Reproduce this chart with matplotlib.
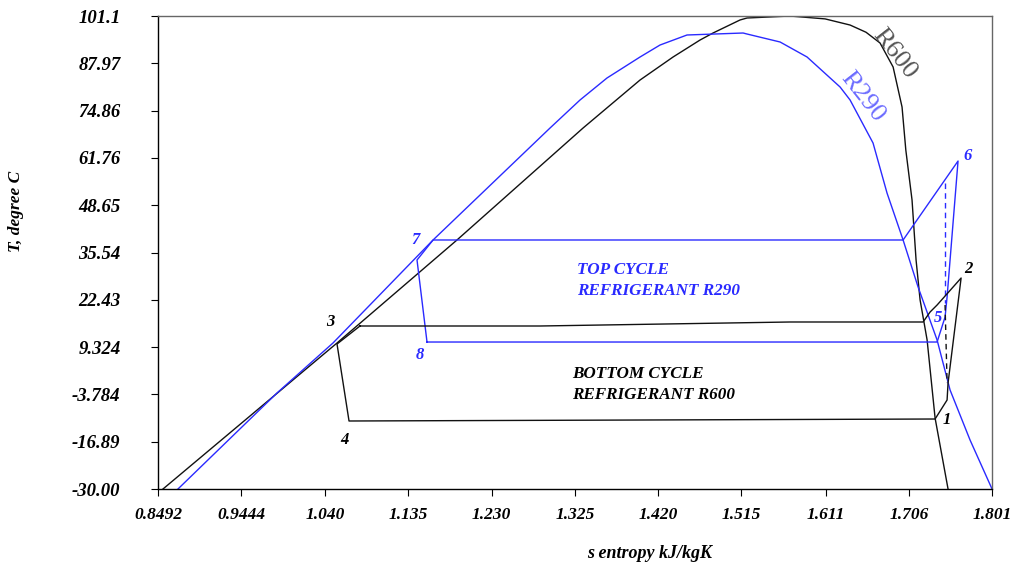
import matplotlib
matplotlib.use("Agg")
import matplotlib.pyplot as plt

# -----------------------------------------------------
# Data
# -----------------------------------------------------

# saturation dome R600 (black)
r600_s = [0.8549, 1.0535, 1.1904, 1.3343, 1.3993, 1.4370, 1.4678, 1.4826, 1.5134,
          1.5214, 1.5705, 1.6105, 1.6390, 1.6572, 1.6732, 1.6881, 1.6983, 1.7026,
          1.7097, 1.7143, 1.7189, 1.7269, 1.7360, 1.7508]
r600_t = [-30.0, 10.47, 39.02, 70.06, 83.36, 89.74, 94.45, 96.39, 100.0,
          100.55, 101.1, 100.3, 98.6, 96.6, 93.62, 86.97, 75.88, 63.96,
          50.10, 33.47, 22.39, 11.30, -10.32, -30.0]

# saturation dome R290 (blue)
r290_s = [0.8720, 0.9850, 1.0489, 1.1631, 1.2966, 1.3308, 1.3616, 1.3993, 1.4221,
          1.4529, 1.5169, 1.5214, 1.5591, 1.5899, 1.6276, 1.6390, 1.6652, 1.6812,
          1.6995, 1.7166, 1.7383, 1.7531, 1.7759, 1.8010]
r290_t = [-30.0, -3.39, 10.47, 39.02, 70.06, 77.82, 83.92, 89.74, 93.06,
          95.84, 96.39, 96.11, 93.90, 89.74, 81.42, 77.82, 65.90, 52.0,
          39.02, 25.99, 11.30, -2.56, -16.42, -30.0]

# top cycle R290: 8 -> 5 -> 6 -> 7 -> 8
top_s = [1.1562, 1.7383, 1.7474, 1.7497, 1.7622, 1.6995, 1.1631, 1.1448, 1.1562]
top_t = [10.74, 10.74, 17.67, 23.22, 60.91, 39.02, 39.02, 33.47, 10.74]
top_dash_s = [1.7474, 1.7474]
top_dash_t = [54.81, 21.55]

# bottom cycle R600: 3 -> 4 -> 1 -> 2 -> 3
bot_s = [1.0797, 1.0535, 1.0672, 1.7360, 1.7497, 1.7508, 1.7657, 1.7383, 1.7303,
         1.7223, 1.5705, 1.2852, 1.0797]
bot_t = [15.18, 10.19, -11.15, -10.60, -5.33, -0.62, 28.48, 21.00, 19.06,
         16.29, 16.29, 15.18, 15.18]
bot_dash_s = [1.7474, 1.7497]
bot_dash_t = [21.0, -0.62]

xticks = [0.8492, 0.9444, 1.040, 1.135, 1.230, 1.325, 1.420, 1.515, 1.611, 1.706, 1.801]
xlabels = ["0.8492", "0.9444", "1.040", "1.135", "1.230", "1.325", "1.420",
           "1.515", "1.611", "1.706", "1.801"]
yticks = [-30.0, -16.89, -3.784, 9.324, 22.43, 35.54, 48.65, 61.76, 74.86, 87.97, 101.1]
ylabels = ["-30.00", "-16.89", "-3.784", "9.324", "22.43", "35.54", "48.65",
           "61.76", "74.86", "87.97", "101.1"]

# state point labels
pt_names = ["1", "2", "3", "4", "5", "6", "7", "8"]
pt_s = [1.7497, 1.7737, 1.0455, 1.0615, 1.7394, 1.7737, 1.1425, 1.1482]
pt_t = [-10.88, 30.98, 16.29, -16.42, 17.40, 62.30, 39.02, 7.14]
pt_col = ["black", "black", "black", "black", "blue", "blue", "blue", "blue"]

BLUE = "#2a2aff"
serif = ["Liberation Serif", "DejaVu Serif"]

# -----------------------------------------------------
# Plot
# -----------------------------------------------------

fig = plt.figure(figsize=(10.18, 5.72), dpi=100)
ax = fig.add_axes([0.1552, 0.1451, 0.8193, 0.8269])

ax.plot(r600_s, r600_t, color="#111111", lw=1.0)
ax.plot(r290_s, r290_t, color=BLUE, lw=1.0)

ax.plot(top_s, top_t, color=BLUE, lw=1.0)
ax.plot(top_dash_s, top_dash_t, color=BLUE, lw=1.0, ls=(0, (4, 3)))
ax.plot(bot_s, bot_t, color="#111111", lw=1.0)
ax.plot(bot_dash_s, bot_dash_t, color="#111111", lw=1.0, ls=(0, (4, 3)))

for name, s, t, c in zip(pt_names, pt_s, pt_t, pt_col):
    ax.text(s, t, name, color=c if c == "black" else BLUE, fontsize=12,
            family=serif, weight="bold", style="italic", ha="center", va="center")

ax.text(1.3279, 27.8, "TOP CYCLE\nREFRIGERANT R290", color=BLUE, fontsize=12.3,
        family=serif, weight="bold", style="italic", ha="left", va="center",
        linespacing=1.4)
ax.text(1.3222, -1.1, "BOTTOM CYCLE\nREFRIGERANT R600", color="black", fontsize=12.3,
        family=serif, weight="bold", style="italic", ha="left", va="center",
        linespacing=1.4)

ax.text(1.6900, 90.6, "R600", color="#555555", fontsize=19, family=serif,
        rotation=-52, ha="center", va="center")
ax.text(1.6527, 78.65, "R290", color="#6b6bff", fontsize=19, family=serif,
        rotation=-52, ha="center", va="center")

ax.set_xlim(0.8492, 1.801)
ax.set_ylim(-30.0, 101.1)
ax.set_xticks(xticks)
ax.set_xticklabels(xlabels)
ax.set_yticks(yticks)
ax.set_yticklabels(ylabels)
for lab in ax.get_xticklabels():
    lab.set_family(serif)
    lab.set_weight("bold")
    lab.set_style("italic")
    lab.set_fontsize(12.5)
for lab in ax.get_yticklabels():
    lab.set_family(serif)
    lab.set_weight("bold")
    lab.set_style("italic")
    lab.set_fontsize(13.5)
ax.tick_params(axis="both", direction="out", length=5, width=0.8)
ax.tick_params(axis="x", pad=8)
ax.tick_params(axis="y", pad=22)

for sp in ["top", "right"]:
    ax.spines[sp].set_color("#666666")
for sp in ax.spines.values():
    sp.set_linewidth(1.0)

fig.text(0.016, 0.63, "T, degree C", rotation=90, fontsize=12.5, family=serif,
         weight="bold", style="italic", ha="center", va="center")
fig.text(0.638, 0.033, "s entropy kJ/kgK", fontsize=13, family=serif,
         weight="bold", style="italic", ha="center", va="center")

plt.savefig("out.png", dpi=100)
plt.close()
